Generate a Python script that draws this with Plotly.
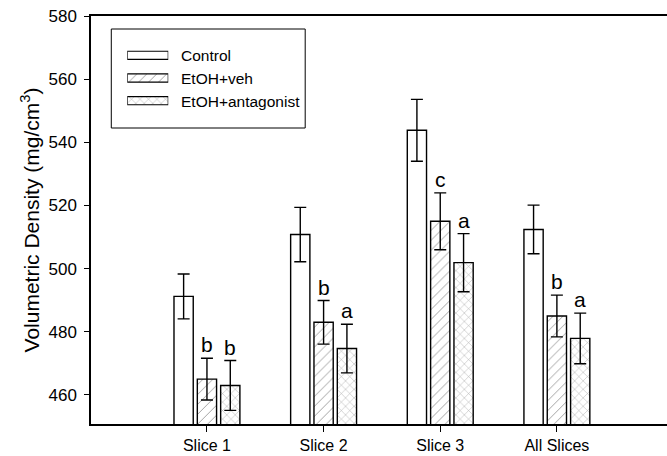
import plotly.graph_objects as go

categories = ["Slice 1", "Slice 2", "Slice 3", "All Slices"]
series_names = ["Control", "EtOH+veh", "EtOH+antagonist"]
control = [491.2, 510.8, 543.8, 512.4]
control_err = [7.1, 8.6, 9.8, 7.7]
etoh_veh = [465.0, 483.0, 515.0, 485.0]
etoh_veh_err = [6.6, 6.9, 9.0, 6.6]
etoh_ant = [463.0, 474.7, 501.9, 477.9]
etoh_ant_err = [7.9, 7.7, 9.2, 8.0]
veh_letters = ["b", "b", "c", "b"]
ant_letters = ["b", "a", "a", "a"]

FONT = "Liberation Sans, Arial, sans-serif"
patterns = [dict(shape=""),
            dict(shape="/", size=7, solidity=0.14, fgcolor="#444", bgcolor="white"),
            dict(shape="x", size=6, solidity=0.14, fgcolor="#444", bgcolor="white")]
values = [control, etoh_veh, etoh_ant]
errs = [control_err, etoh_veh_err, etoh_ant_err]

fig = go.Figure()
for name, v, e, p in zip(series_names, values, errs, patterns):
    fig.add_trace(go.Bar(
        x=categories, y=v, name=name,
        marker=dict(color="white", line=dict(color="black", width=1.4), pattern=p),
        error_y=dict(type="data", array=e, visible=True, color="black",
                     thickness=1.4, width=6),
        showlegend=False,
    ))

# legend swatches as bars in a small hidden axis pair
for name, p in zip(series_names, patterns):
    fig.add_trace(go.Bar(
        y=[name], x=[1], orientation="h", xaxis="x2", yaxis="y2",
        marker=dict(color="white", line=dict(color="black", width=1.2), pattern=p),
        width=0.36, showlegend=False, hoverinfo="skip",
    ))

ann = []
offset = 0.2
for i in range(len(categories)):
    ann.append(dict(x=i, y=etoh_veh[i] + etoh_veh_err[i], text=veh_letters[i],
                    xref="x", yref="y", showarrow=False, yanchor="bottom",
                    yshift=0, font=dict(size=21, family=FONT, color="black")))
    ann.append(dict(x=i + offset, y=etoh_ant[i] + etoh_ant_err[i], text=ant_letters[i],
                    xref="x", yref="y", showarrow=False, yanchor="bottom",
                    yshift=0, font=dict(size=21, family=FONT, color="black")))

# legend text
W, L = 576.3, 90.7
H, T = 408.0, 16.0
def px_x(px):
    return (px - L) / W
def px_y(py):
    return (T + H - py) / H
row_y = [55, 78, 101]
for name, ry in zip(series_names, row_y):
    ann.append(dict(x=px_x(179), y=px_y(ry), xref="paper", yref="paper", text=name,
                    showarrow=False, xanchor="left", yanchor="middle",
                    font=dict(size=15.5, family=FONT, color="black")))

fig.update_layout(
    width=667, height=456,
    margin=dict(l=91, r=0, t=16, b=32, autoexpand=False),
    paper_bgcolor="white", plot_bgcolor="white",
    barmode="group", bargap=0.4, bargroupgap=0.175,
    font=dict(family=FONT, color="black", size=14),
    xaxis=dict(range=[-0.994, 3.944], showline=True, linecolor="black", linewidth=1.5,
               mirror=True, ticks="outside", ticklen=6, tickwidth=1, tickcolor="black",
               showgrid=False, zeroline=False, tickfont=dict(size=16),
               automargin=False),
    yaxis=dict(range=[450.8, 580], showline=True, linecolor="black", linewidth=1.5,
               ticks="outside", ticklen=5, tickwidth=1, tickcolor="black",
               tickvals=[460, 480, 500, 520, 540, 560, 580], showgrid=False,
               zeroline=False, tickfont=dict(size=17), ticklabelstandoff=4,
               automargin=False,
               title=dict(text="Volumetric Density (mg/cm<sup>3</sup>)",
                          font=dict(size=21), standoff=3)),
    xaxis2=dict(domain=[px_x(127), px_x(168)], range=[0, 1], visible=False,
                anchor="y2", automargin=False),
    yaxis2=dict(domain=[px_y(112), px_y(44)], visible=False, anchor="x2",
                categoryorder="array", categoryarray=series_names[::-1],
                range=[-0.5, 2.5], automargin=False),
    annotations=ann,
    shapes=[dict(type="rect", xref="paper", yref="paper",
                 x0=px_x(111), x1=px_x(305), y0=px_y(128), y1=px_y(29),
                 line=dict(color="black", width=1), fillcolor="rgba(0,0,0,0)")],
)

fig.write_html("out.html", config={"displayModeBar": False},
               post_script="document.body.style.margin='0';document.body.style.overflow='hidden';")
